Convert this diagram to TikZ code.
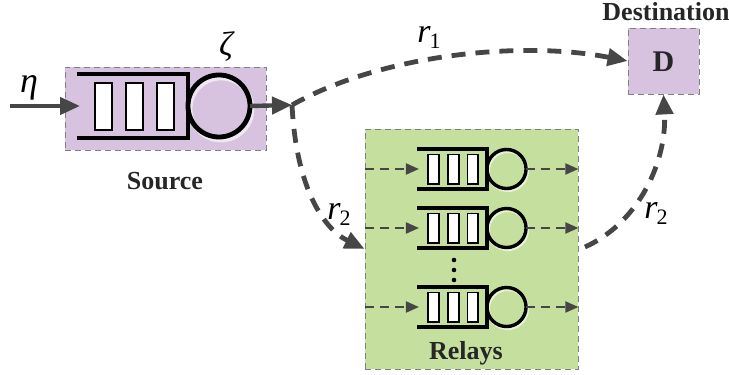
\documentclass[tikz,border=0pt]{standalone}
\usepackage{fontspec}
\setmainfont{Liberation Serif}
\usetikzlibrary{arrows.meta}

\definecolor{srcpurple}{RGB}{215,195,223}
\definecolor{relgreen}{RGB}{197,224,158}
\definecolor{linegray}{RGB}{70,70,70}

\tikzset{
  % queue: open buffer with three packets and a server circle
  queue/.pic={
    \draw[white,opacity=0.6,line width=#1] (33,3) circle (31);
    \draw[line width=#1] (-111,-32) -- (0,-32) -- (0,32) -- (-111,32);
    \foreach \x in {-93,-62,-31}
      \draw[line width=0.55*#1,fill=white] (\x,-23) rectangle ++(17,47);
    \draw[line width=#1] (31,0) circle (31);
    \coordinate (-in) at (-108,0);
    \coordinate (-out) at (62,0);
  },
  boxlabel/.style={font=\fontsize{13}{15}\selectfont\bfseries,text=black!85},
  mathlabel/.style={font=\fontsize{17}{20}\selectfont\itshape},
  bigarrow/.style={draw=linegray,line width=2.2pt,-{Triangle[length=10pt,width=8.5pt]}},
  bigdash/.style={draw=linegray,line width=2.4pt,dash pattern=on 7pt off 5pt,
    -{Triangle[length=10pt,width=8.5pt]}},
  smallarrow/.style={draw=linegray,line width=1pt,dash pattern=on 4.5pt off 3pt,
    -{Triangle[length=6.5pt,width=5.5pt]}},
}

\begin{document}
\begin{tikzpicture}[x=0.5pt,y=-0.5pt]
  \useasboundingbox (0,0) rectangle (729,375);

  % Source
  \node[fill=srcpurple,draw=gray,densely dashed,thin,minimum width=100.5pt,
        minimum height=41.5pt] (source) at (165.5,108.5) {};
  \pic (src) at (188,106) {queue=2.4pt};
  \node[boxlabel] (srclabel) at (165,181) {Source};
  \node[mathlabel] (zeta) at (226,47) {ζ};
  \node[mathlabel,font=\fontsize{18}{20}\selectfont\itshape] (eta) at (29,88) {η};
  \coordinate (arrival) at (10,106);
  \coordinate (branch) at (292,105);
  \draw[bigarrow] (arrival) -- (src-in);
  \draw[bigarrow] (src-out) -- (branch);

  % Relays
  \node[fill=relgreen,draw=gray,densely dashed,thin,minimum width=106.5pt,
        minimum height=120pt] (relays) at (471.5,249) {};
  \foreach \y/\n in {169/rla,228/rlb,307/rlc} {
    \pic[scale=0.63] (\n) at (487,\y) {queue=1.7pt};
    \draw[smallarrow] (relays.west |- \n-in) -- (\n-in);
    \draw[smallarrow] (\n-out) -- (relays.east |- \n-out);
  }
  \foreach \y in {260,270,280}
    \fill (454,\y) circle (2.3);
  \node[boxlabel] (rellabel) at (466,353) {Relays};

  % Destination
  \node[fill=srcpurple,draw=gray,densely dashed,thin,minimum width=35.5pt,
        minimum height=33pt] (dest) at (663.5,61) {};
  \node[boxlabel,font=\fontsize{15}{17}\selectfont\bfseries] (dlabel) at (663.5,62) {D};
  \node[boxlabel] (destlabel) at (666,12) {Destination};

  % links
  \draw[bigdash] (branch) .. controls (380,55) and (520,40) .. (dest.west);
  \draw[bigdash] (branch) .. controls (296,185) and (322,228) .. (relays.west);
  \coordinate (relout) at (585,247);
  \draw[bigdash] (relout) .. controls (640,222) and (667,160) .. (dest.south);
  \node[mathlabel] (r1) at (429,37) {r\kern-0.5pt\raisebox{-3pt}{\upshape\fontsize{11}{12}\selectfont 1}};
  \node[mathlabel] (r2a) at (339,214) {r\kern-0.5pt\raisebox{-3pt}{\upshape\fontsize{11}{12}\selectfont 2}};
  \node[mathlabel] (r2b) at (656,213) {r\kern-0.5pt\raisebox{-3pt}{\upshape\fontsize{11}{12}\selectfont 2}};
\end{tikzpicture}
\end{document}
